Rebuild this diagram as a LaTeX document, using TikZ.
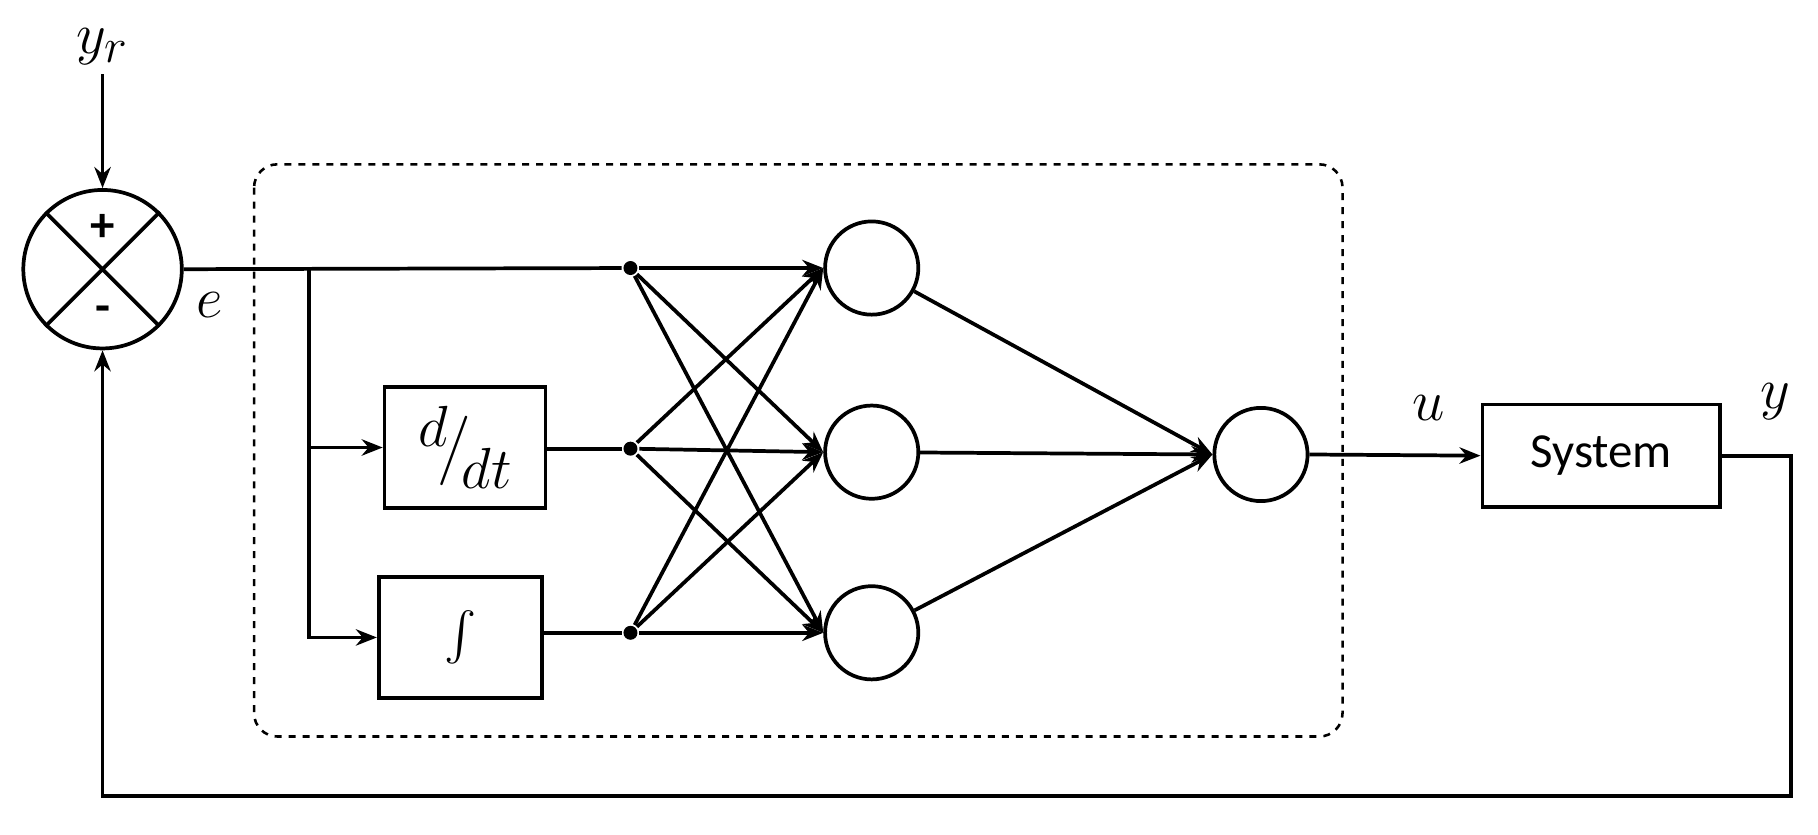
\documentclass[tikz,border=0pt]{standalone}
\usepackage{fontspec}
\setmainfont{Carlito}
\usepackage{amsmath}
\usetikzlibrary{arrows.meta}
\begin{document}
\begin{tikzpicture}[x=0.5pt,y=-0.5pt,line width=1.6pt,
  arr/.style={-{Stealth[length=9pt,width=7pt]}},
  neu/.style={circle,draw,minimum size=40pt,inner sep=0pt},
  blk/.style={draw,inner sep=0pt},
  dot/.style={circle,fill,inner sep=0pt,minimum size=6pt},
  mlab/.style={font=\fontsize{28}{32}\selectfont}]
\useasboundingbox (0,0) rectangle (1560,716);
\draw[dashed,rounded corners=10pt,line width=1.1pt] (218,141) rectangle (1152,632);
\node[circle,draw,minimum size=68pt,inner sep=0pt] (s) at (88,231) {};
\draw (s.45) -- (s.225) (s.135) -- (s.315);
\node[font=\fontsize{21}{22}\selectfont\bfseries] at (88,196) {+};
\node[font=\fontsize{21}{22}\selectfont\bfseries] at (88,270) {-};
\node[mlab] (yr) at (88,40) {$y_r$};
\node[mlab] at (180,262) {$e$};
\draw[arr] (yr.south) -- (s.north);
\node[dot] (d1) at (541,230) {};
\node[dot] (d2) at (541,385) {};
\node[dot] (d3) at (541,543) {};
\node[blk,mlab,minimum width=69pt,minimum height=52pt] (dd) at (399,384) {$\raisebox{8pt}{$d$}\!\big/\!\raisebox{-10pt}{$dt$}$};
\node[blk,minimum width=70pt,minimum height=52pt] (in) at (395,547) {\fontsize{22}{24}\selectfont$\int$};
\node[neu] (h1) at (748,230) {};
\node[neu] (h2) at (748,388) {};
\node[neu] (h3) at (748,543) {};
\node[neu] (o) at (1082,390) {};
\node[blk,minimum width=102pt,minimum height=44pt,font=\fontsize{21}{24}\selectfont] (sys) at (1374,391) {System};
\coordinate (b) at (265,230);
\draw (s.east) -- (d1);
\draw[arr] (b) |- (dd.west);
\draw[arr] (b) |- (in.west);
\draw (dd.east |- d2) -- (d2);
\draw (in.east |- d3) -- (d3);
\foreach \d in {d1,d2,d3}{\foreach \h in {h1,h2,h3}{\draw[arr] (\d) -- (\h.west);}}
\foreach \h in {h1,h2,h3}{\draw[arr] (\h) -- (o.west);}
\draw[arr] (o.east) -- (sys.west);
\node[mlab] at (1226,350) {$u$};
\node[mlab] at (1523,345) {$y$};
\coordinate (c1) at (1537,391);
\coordinate (c2) at (1537,683);
\coordinate (c3) at (88,683);
\draw[arr] (sys.east) -- (c1) -- (c2) -- (c3) -- (s.south);
\end{tikzpicture}
\end{document}
